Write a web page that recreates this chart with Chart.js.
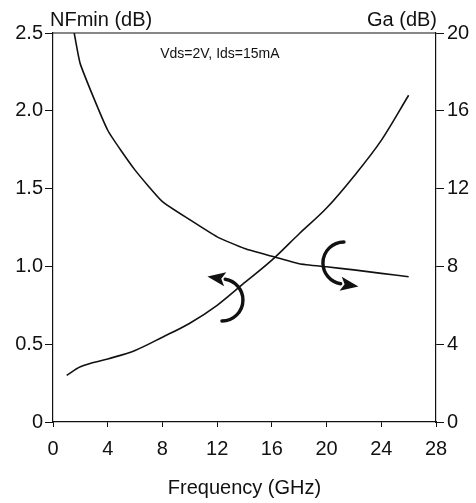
<!DOCTYPE html>
<html>
<head>
<meta charset="utf-8">
<title>NFmin and Ga vs Frequency</title>
<script src="https://cdn.jsdelivr.net/npm/chart.js@4.4.1/dist/chart.umd.min.js"></script>
<style>
	html, body { margin: 0; padding: 0; background: #fff; }
	#wrap { width: 476px; height: 503px; }
</style>
</head>
<body>
<div id="wrap"><canvas id="nfChart" width="476" height="503"></canvas></div>
<script>
// values
const freqNF = [1, 2, 4, 6, 8, 10, 12, 14, 16, 18, 20, 22, 24, 26];
const nfMin = [0.30, 0.355, 0.405, 0.46, 0.545, 0.635, 0.75, 0.895, 1.04, 1.21, 1.375, 1.58, 1.81, 2.10];

const freqGa = [1.55, 2, 4, 6, 8, 10, 12, 14, 16, 18, 20, 22, 24, 26];
const gainGa = [20.0, 18.4, 15.0, 12.95, 11.33, 10.4, 9.52, 8.92, 8.52, 8.14, 7.98, 7.82, 7.64, 7.47];

const freqTicks = [0, 4, 8, 12, 16, 20, 24, 28];
const nfTicks = [0, 0.5, 1.0, 1.5, 2.0, 2.5];
const gaTicks = [0, 4, 8, 12, 16, 20];

const biasNote = 'Vds=2V, Ids=15mA';

const FONT = "'Liberation Sans', Arial, Helvetica, sans-serif";
const INK = '#111';

function toPoints(xs, ys) {
	return xs.map((x, i) => ({ x: x, y: ys[i] }));
}

// curved arrows that tie each curve to its axis, plus the frame and labels
const extras = {
	id: 'extras',
	afterDraw(chart) {
		const ctx = chart.ctx;
		const area = chart.chartArea;
		const sx = chart.scales.x;
		const sl = chart.scales.yL;

		ctx.save();
		ctx.strokeStyle = INK;
		ctx.lineWidth = 1.2;
		ctx.beginPath();
		ctx.moveTo(area.left, area.top);
		ctx.lineTo(area.right, area.top);
		ctx.stroke();

		ctx.fillStyle = INK;
		ctx.font = '20px ' + FONT;
		ctx.textBaseline = 'middle';
		ctx.textAlign = 'left';
		ctx.fillText('NFmin (dB)', area.left - 3, 20);
		ctx.textAlign = 'right';
		ctx.fillText('Ga (dB)', area.right + 1, 20);

		ctx.font = '14px ' + FONT;
		ctx.textAlign = 'center';
		ctx.fillText(biasNote, sx.getPixelForValue(12.2), sl.getPixelForValue(2.367));

		drawArrow(ctx, sx.getPixelForValue(12.35), sl.getPixelForValue(0.784), 21, Math.PI / 2, -Math.PI * 0.45);
		drawArrow(ctx, sx.getPixelForValue(21.27), sl.getPixelForValue(1.022), 21, -Math.PI / 2, -Math.PI * 1.45);
		ctx.restore();
	}
};

function drawArrow(ctx, cx, cy, r, a0, a1) {
	ctx.lineWidth = 3.4;
	ctx.lineCap = 'round';
	ctx.beginPath();
	ctx.arc(cx, cy, r, a0, a1, true);
	ctx.stroke();

	const ex = cx + r * Math.cos(a1);
	const ey = cy + r * Math.sin(a1);
	const dx = Math.sin(a1);
	const dy = -Math.cos(a1);
	const len = 18, half = 7;
	ctx.beginPath();
	ctx.moveTo(ex + dx * len, ey + dy * len);
	ctx.lineTo(ex - dy * half, ey + dx * half);
	ctx.lineTo(ex + dx * 4, ey + dy * 4);
	ctx.lineTo(ex + dy * half, ey - dx * half);
	ctx.closePath();
	ctx.fill();
}

const tickFont = { family: FONT, size: 20 };

const nfChart = new Chart(document.getElementById('nfChart'), {
	type: 'line',
	data: {
		datasets: [{
			label: 'NFmin',
			data: toPoints(freqNF, nfMin),
			yAxisID: 'yL',
			borderColor: INK,
			borderWidth: 1.6,
			pointRadius: 0,
			cubicInterpolationMode: 'monotone'
		}, {
			label: 'Ga',
			data: toPoints(freqGa, gainGa),
			yAxisID: 'yR',
			borderColor: INK,
			borderWidth: 1.6,
			pointRadius: 0,
			tension: 0.15
		}]
	},
	options: {
		responsive: false,
		animation: false,
		layout: { padding: { top: 33, left: 0, right: 0, bottom: 0 } },
		plugins: {
			legend: { display: false },
			tooltip: { enabled: false }
		},
		scales: {
			x: {
				type: 'linear',
				position: 'bottom',
				min: 0,
				max: 28,
				afterBuildTicks: (s) => { s.ticks = freqTicks.map(v => ({ value: v })); },
				afterFit: (s) => { s.height = 81; },
				ticks: { color: INK, font: tickFont, padding: 10 },
				grid: { drawOnChartArea: false, color: INK, tickLength: 5, lineWidth: 1 },
				border: { color: INK, width: 1.2 },
				title: {
					display: true,
					text: 'Frequency (GHz)',
					color: INK,
					font: { family: FONT, size: 20 },
					padding: { top: 0, bottom: 3 }
				}
			},
			yL: {
				type: 'linear',
				position: 'left',
				min: 0,
				max: 2.5,
				afterBuildTicks: (s) => { s.ticks = nfTicks.map(v => ({ value: v })); },
				afterFit: (s) => { s.width = 53; },
				ticks: {
					color: INK,
					font: tickFont,
					padding: 2,
					callback: (v) => v === 0 ? '0' : v.toFixed(1)
				},
				grid: { drawOnChartArea: false, color: INK, tickLength: 8, lineWidth: 1 },
				border: { color: INK, width: 1.2 }
			},
			yR: {
				type: 'linear',
				position: 'right',
				min: 0,
				max: 20,
				afterBuildTicks: (s) => { s.ticks = gaTicks.map(v => ({ value: v })); },
				afterFit: (s) => { s.width = 40; },
				ticks: { color: INK, font: tickFont, padding: 3 },
				grid: { drawOnChartArea: false, color: INK, tickLength: 8, lineWidth: 1 },
				border: { color: INK, width: 1.2 }
			}
		}
	},
	plugins: [extras]
});
</script>
</body>
</html>
